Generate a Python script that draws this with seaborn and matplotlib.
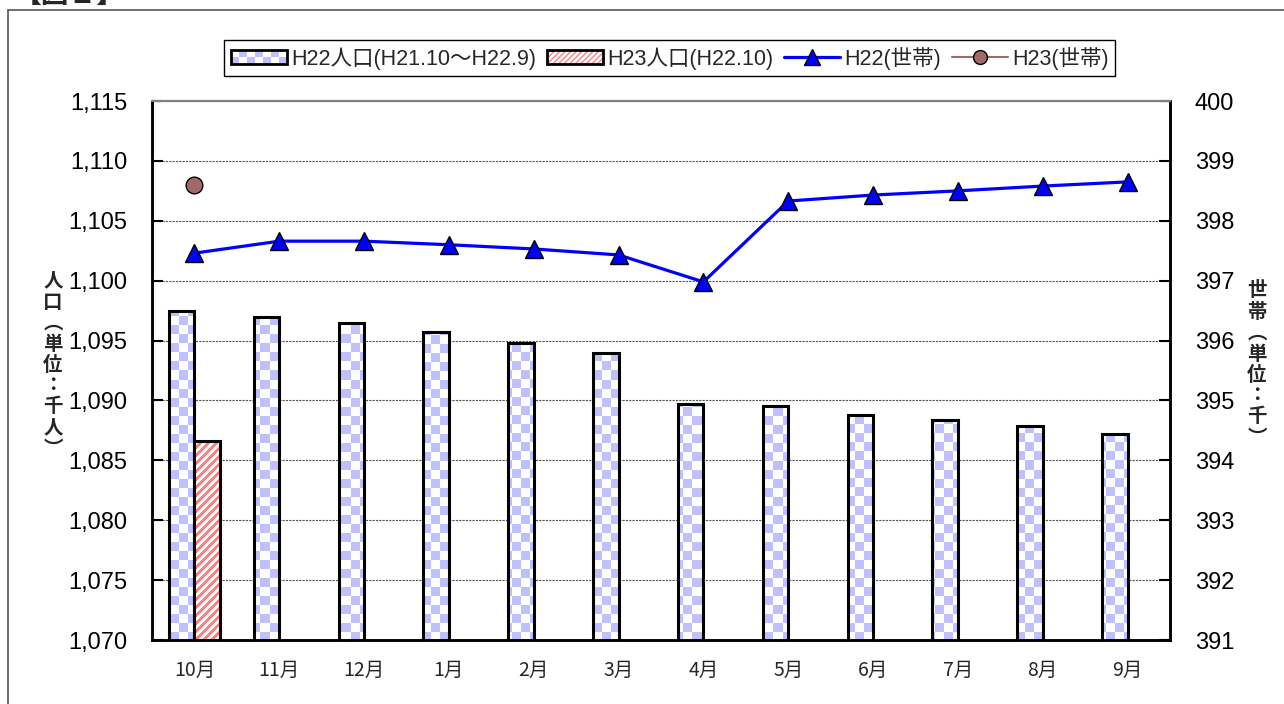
# Population / household chart (H22 - H23)
import numpy as np
import pandas as pd
import matplotlib
matplotlib.use("Agg")
import matplotlib.pyplot as plt
from matplotlib.colors import ListedColormap, to_rgba
from matplotlib.patches import Patch, Rectangle
from matplotlib.lines import Line2D
from matplotlib.legend_handler import HandlerBase
import seaborn as sns

# ------------------------------------------------------------
# data
months = ['10月', '11月', '12月', '1月', '2月', '3月',
          '4月', '5月', '6月', '7月', '8月', '9月']
pop_h22 = [1097.5, 1097.0, 1096.5, 1095.7, 1094.8, 1094.0,
           1089.7, 1089.5, 1088.8, 1088.4, 1087.9, 1087.2]
pop_h23 = [1086.6] + [np.nan] * 11
hh_h22 = [397.46, 397.66, 397.66, 397.60, 397.53, 397.43,
          396.98, 398.33, 398.43, 398.50, 398.58, 398.65]
hh_h23 = [398.60] + [np.nan] * 11

pop_ticks = [1070, 1075, 1080, 1085, 1090, 1095, 1100, 1105, 1110, 1115]
hh_ticks = [391, 392, 393, 394, 395, 396, 397, 398, 399, 400]

labels = ['H22人口(H21.10〜H22.9)', 'H23人口(H22.10)', 'H22(世帯)', 'H23(世帯)']
left_label = ['人', '口', '︵', '単', '位', '：', '千', '人', '︶']
right_label = ['世', '帯', '︵', '単', '位', '：', '千', '︶']

# ------------------------------------------------------------
sns.set_style('white')
plt.rcParams['font.family'] = ['Liberation Sans', 'Noto Sans CJK JP']
CJK = ['Noto Sans CJK JP', 'DejaVu Sans']

BLUE_TEX = '#c0c0ff'
RED_TEX = '#ff8080'


class TexHandler(HandlerBase):
    # legend swatch with checker or stripe texture
    def __init__(self, kind):
        super().__init__()
        self.kind = kind

    def create_artists(self, legend, orig_handle, xdescent, ydescent,
                       width, height, fontsize, trans):
        x0, y0 = -xdescent, -ydescent
        arts = []
        if self.kind == 'checker':
            nc, nr = 7, 2
            cw, ch = width / nc, height / nr
            for i in range(nc):
                for j in range(nr):
                    fc = BLUE_TEX if (i + j) % 2 == 0 else 'white'
                    arts.append(Rectangle((x0 + i * cw, y0 + j * ch), cw, ch,
                                          facecolor=fc, linewidth=0,
                                          transform=trans))
        else:
            arts.append(Rectangle((x0, y0), width, height, facecolor='white',
                                  edgecolor=RED_TEX, hatch='//////',
                                  linewidth=0, transform=trans))
        arts.append(Rectangle((x0, y0), width, height, fill=False,
                              edgecolor='black', linewidth=2, transform=trans))
        return arts


fig = plt.figure(figsize=(12.84, 7.04), dpi=100)
ax = fig.add_axes([0.1184, 0.0909, 0.7928, 0.7656])

df = pd.DataFrame({
    'month': months * 2,
    'series': [labels[0]] * 12 + [labels[1]] * 12,
    'pop': pop_h22 + pop_h23,
})
sns.barplot(data=df, x='month', y='pop', hue='series',
            palette=[BLUE_TEX, RED_TEX], saturation=1, width=0.6,
            edgecolor='black', linewidth=2.2, errorbar=None,
            legend=False, ax=ax)

# textures (checker for H22, diagonal stripes for H23), clipped to bars
W, H = 1018, 539
rows, cols = np.indices((H, W))
checker = ((cols // 9 + rows // 9) % 2).astype(float)
stripes = (((cols + rows) // 4) % 2).astype(float)

for p in list(ax.patches):
    fc = p.get_facecolor()
    if np.allclose(fc, to_rgba(BLUE_TEX)):
        tex, cm = checker, ListedColormap(['white', BLUE_TEX])
    elif np.allclose(fc, to_rgba(RED_TEX)):
        tex, cm = stripes, ListedColormap(['white', RED_TEX])
    else:
        continue
    im = ax.imshow(tex, cmap=cm, vmin=0, vmax=1, extent=(0, 1, 0, 1),
                   transform=ax.transAxes, aspect='auto',
                   interpolation='nearest', zorder=2)
    im.set_clip_path(p)
    p.set_facecolor('none')
    p.set_zorder(3)

ax.set_xlim(-0.5, 11.5)
ax.set_ylim(1070, 1115)
ax.set_yticks(pop_ticks)
ax.set_yticklabels([f'{v:,}' for v in pop_ticks])
ax.set_xlabel('')
ax.set_ylabel('')
ax.yaxis.grid(True, color='#555555', linestyle=(0, (2, 1)), linewidth=0.8)
ax.xaxis.grid(False)
ax.set_axisbelow(True)
ax.tick_params(axis='y', direction='in', length=8, width=1.5, pad=18,
               labelsize=17, colors='black')
ax.tick_params(axis='x', length=0, pad=14, labelsize=14)
for t in ax.get_xticklabels():
    t.set_family(CJK)

# ------------------------------------------------------------
# households on the right axis
ax2 = ax.twinx()
x = np.arange(len(months))
sns.lineplot(x=x, y=hh_h22, ax=ax2, color='#0000ff', linewidth=2.3,
             marker='^', markersize=13, markeredgecolor='black',
             markeredgewidth=1, legend=False, zorder=5)
sns.lineplot(x=x, y=hh_h23, ax=ax2, color='#a06a6a', linewidth=1.5,
             marker='o', markersize=12, markeredgecolor='black',
             markeredgewidth=1, legend=False, zorder=5)
ax2.set_xlim(-0.5, 11.5)
ax2.set_ylim(391, 400)
ax2.set_yticks(hh_ticks)
ax2.set_yticklabels([str(v) for v in hh_ticks])
ax2.tick_params(axis='y', direction='in', length=8, width=1.5, pad=18,
                labelsize=17, colors='black')
ax2.grid(False)

for a in (ax, ax2):
    for side in ('left', 'right', 'bottom'):
        a.spines[side].set_visible(True)
        a.spines[side].set_color('black')
        a.spines[side].set_linewidth(1.8)
    a.spines['top'].set_visible(True)
    a.spines['top'].set_color('#808080')
    a.spines['top'].set_linewidth(1.5)

# vertical axis titles
for i, ch in enumerate(left_label):
    fig.text(53 / 1284, 1 - (281 + i * 21) / 704, ch, family=CJK,
             fontsize=14, fontweight='bold', ha='center', va='center')
for i, ch in enumerate(right_label):
    fig.text(1257 / 1284, 1 - (291 + i * 21) / 704, ch, family=CJK,
             fontsize=14, fontweight='bold', ha='center', va='center')

# ------------------------------------------------------------
# legend
handles = [
    Patch(facecolor=BLUE_TEX, edgecolor='black'),
    Patch(facecolor=RED_TEX, edgecolor='black'),
    Line2D([], [], color='#0000ff', linewidth=2.3, marker='^',
           markersize=11, markeredgecolor='black', markeredgewidth=1),
    Line2D([], [], color='#a06a6a', linewidth=1.5, marker='o',
           markersize=10, markeredgecolor='black', markeredgewidth=1),
]
leg = fig.legend(handles, labels, loc='center',
                 bbox_to_anchor=(669.5 / 1284, 1 - 58 / 704), ncol=4,
                 frameon=True, fancybox=False, framealpha=1,
                 edgecolor='black', fontsize=15.5, handlelength=2.6,
                 handleheight=0.6, handletextpad=0.2, columnspacing=0.5,
                 borderpad=0.3,
                 handler_map={handles[0]: TexHandler('checker'),
                              handles[1]: TexHandler('stripes')})
leg.get_frame().set_linewidth(1.0)

# outer frame and cut-off caption
fig.add_artist(Rectangle((8 / 1284, -0.1), 1.2, 1 - 10 / 704 + 0.1,
                         transform=fig.transFigure, fill=False,
                         edgecolor='#555555', linewidth=1.2))
fig.text(14 / 1284, 1 - 9 / 704, '【図１】', family=CJK, fontsize=20,
         fontweight='bold', va='bottom', ha='left')

fig.savefig('out.png', dpi=100)
